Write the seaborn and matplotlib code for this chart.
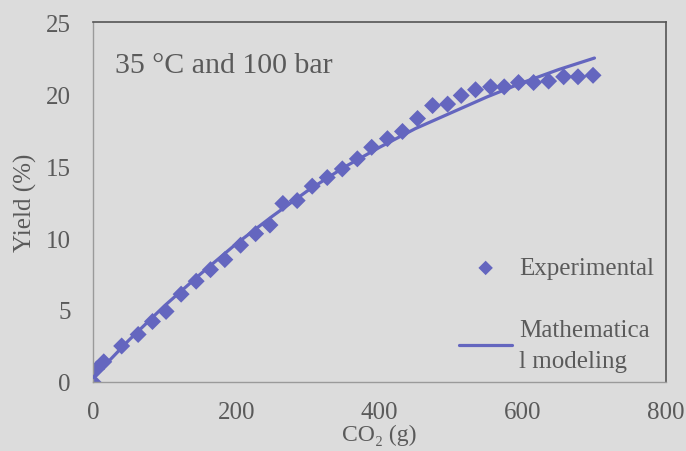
import matplotlib
matplotlib.use('Agg')
import matplotlib.pyplot as plt
import seaborn as sns
import pandas as pd

# dados
co2_exp = [0, 5, 15, 40, 63, 83, 102, 123, 144, 164, 184, 206, 227, 247, 265, 285,
           306, 327, 348, 369, 389, 411, 432, 453, 474, 495, 514, 534, 555, 574,
           594, 615, 636, 657, 677, 698]
yield_exp = [0.0, 0.9, 1.4, 2.5, 3.3, 4.2, 4.9, 6.1, 7.0, 7.8, 8.5, 9.5, 10.3, 10.9,
             12.4, 12.6, 13.6, 14.2, 14.8, 15.5, 16.3, 16.9, 17.4, 18.3, 19.2, 19.3,
             19.9, 20.3, 20.5, 20.5, 20.8, 20.8, 20.9, 21.2, 21.2, 21.3]

co2_model = [0, 50, 100, 150, 200, 250, 300, 350, 400, 450, 500, 550, 600, 650, 700]
yield_model = [0.3, 2.9, 5.3, 7.5, 9.6, 11.5, 13.3, 14.9, 16.3, 17.6, 18.7, 19.8,
               20.8, 21.7, 22.5]

x_ticks = [0, 200, 400, 600, 800]
y_ticks = [0, 5, 10, 15, 20, 25]

df_exp = pd.DataFrame({'co2': co2_exp, 'yield': yield_exp})
df_model = pd.DataFrame({'co2': co2_model, 'yield': yield_model})

sns.set_theme(style="white")
plt.rcParams['font.family'] = ['Liberation Serif', 'DejaVu Serif']

fundo = '#dcdcdc'
cor_texto = '#5a5a5a'
cor_serie = '#6466bf'

fig = plt.figure(figsize=(6.86, 4.52), dpi=100, facecolor=fundo)
ax = fig.add_axes([0.1356, 0.1527, 0.8354, 0.7963], facecolor=fundo)

sns.lineplot(data=df_model, x='co2', y='yield', ax=ax, color=cor_serie,
             linewidth=2.3, label='Mathematica\nl modeling', zorder=3)
sns.scatterplot(data=df_exp, x='co2', y='yield', ax=ax, color=cor_serie,
                marker='D', s=75, edgecolor='none', label='Experimental', zorder=2)

ax.set_xlim(0, 800)
ax.set_ylim(0, 25)
ax.set_xticks(x_ticks)
ax.set_yticks(y_ticks)
ax.tick_params(axis='both', length=0, labelsize=18, colors=cor_texto)
ax.tick_params(axis='x', pad=14)
ax.tick_params(axis='y', pad=16)

ax.set_xlabel('CO₂ (g)', fontsize=17, color=cor_texto, labelpad=0)
ax.set_ylabel('Yield (%)', fontsize=18, color=cor_texto, labelpad=6)

for lado in ['top', 'right']:
    ax.spines[lado].set_color('#555555')
    ax.spines[lado].set_linewidth(1.2)
for lado in ['left', 'bottom']:
    ax.spines[lado].set_color('#9a9a9a')
    ax.spines[lado].set_linewidth(1.0)

ax.text(0.038, 0.88, '35 °C and 100 bar', transform=ax.transAxes,
        fontsize=21.5, color=cor_texto, va='center', ha='left')

# legenda: experimental em cima, modelo embaixo
handles, labels = ax.get_legend_handles_labels()
leg = ax.legend(handles[::-1], labels[::-1], loc='lower right',
                bbox_to_anchor=(0.997, 0.0), frameon=False, fontsize=18,
                labelcolor=cor_texto, handlelength=2.1, handletextpad=0.3,
                labelspacing=1.6, borderaxespad=0.0, markerscale=0.85)
leg.get_texts()[1].set_linespacing(1.5)

fig.savefig('out.png', dpi=100, facecolor=fundo)
plt.close('all')
